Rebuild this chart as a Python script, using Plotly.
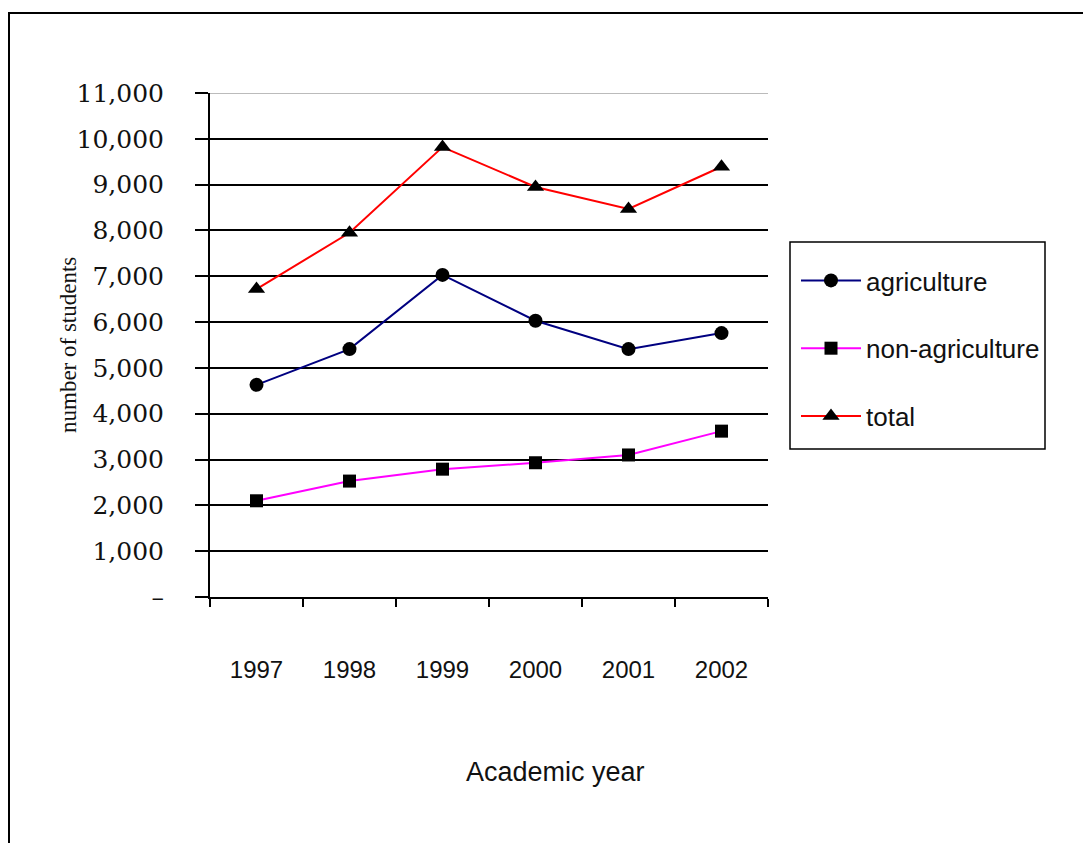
import plotly.graph_objects as go

years = ["1997", "1998", "1999", "2000", "2001", "2002"]
agriculture = [4630, 5410, 7030, 6030, 5410, 5760]
non_agriculture = [2100, 2530, 2790, 2930, 3100, 3620]
total = [6720, 7950, 9820, 8950, 8470, 9390]

series_names = ["agriculture", "non-agriculture", "total"]
series_colors = ["#000080", "#FF00FF", "#FF0000"]
series_symbols = ["circle", "square", "triangle-up"]
series_sizes = [14, 13, 15]

y_tickvals = list(range(0, 11001, 1000))
y_ticktext = ["–"] + [f"{v:,}" for v in y_tickvals[1:]]

fig = go.Figure()
for name, vals, col, sym, sz in zip(series_names, [agriculture, non_agriculture, total],
                                    series_colors, series_symbols, series_sizes):
    fig.add_trace(go.Scatter(
        x=years, y=vals, name=name, mode="lines+markers",
        line=dict(color=col, width=2),
        marker=dict(symbol=sym, size=sz, color="black"),
        legendgroup=name,
    ))

W, H = 1091, 843
OFF = 8  # page offset of the figure in the screenshot
L, R, T, B = 210 - OFF, 768 - OFF, 93 - OFF, 597 - OFF
pw, ph = R - L, B - T

def px(x):  # reference screenshot x -> paper
    return (x - OFF - L) / pw

def py(y):  # reference screenshot y -> paper
    return (B - (y - OFF)) / ph

fig.update_layout(
    width=W, height=H,
    margin=dict(l=L, r=W - R, t=T, b=H - B),
    paper_bgcolor="white", plot_bgcolor="white",
    showlegend=True,
    legend=dict(
        x=px(796), y=py(257), xanchor="left", yanchor="top",
        borderwidth=0,
        font=dict(family="Liberation Sans, Arial, sans-serif", size=26, color="#111"),
        tracegroupgap=31, itemwidth=60,
        bgcolor="rgba(0,0,0,0)",
    ),
    xaxis=dict(
        type="category", range=[-0.5, 5.5],
        tickson="boundaries", ticks="outside", ticklen=8, tickwidth=2, tickcolor="black",
        showline=True, linecolor="black", linewidth=2,
        showgrid=False, zeroline=False,
        tickfont=dict(family="Liberation Sans, Arial, sans-serif", size=24, color="#111"),
        ticklabelstandoff=50,
    ),
    yaxis=dict(
        range=[0, 11000], tickvals=y_tickvals, ticktext=y_ticktext,
        ticks="outside", ticklen=13, tickwidth=2, tickcolor="black",
        showline=True, linecolor="black", linewidth=2,
        showgrid=True, gridcolor="black", gridwidth=2,
        zeroline=False,
        tickfont=dict(family="DejaVu Serif, serif", size=25, color="#111"),
        ticklabelstandoff=26,
    ),
    font=dict(family="Liberation Sans, Arial, sans-serif", color="#111"),
)

# top grid line drawn lighter
fig.add_shape(type="line", xref="paper", yref="y", x0=0, x1=1, y0=11000, y1=11000,
              line=dict(color="#BBBBBB", width=2), layer="above")
# legend box
fig.add_shape(type="rect", xref="paper", yref="paper",
              x0=px(790), x1=px(1045), y0=py(449), y1=py(242),
              line=dict(color="black", width=1.5), fillcolor="white", layer="below")
# outer frame
fig.add_shape(type="rect", xref="paper", yref="paper",
              x0=px(9), x1=px(1120), y0=py(880), y1=py(13),
              line=dict(color="black", width=2), layer="below")

fig.add_annotation(text="Academic year", xref="paper", yref="paper",
                   x=px(555), y=py(772), xanchor="center", yanchor="middle",
                   showarrow=False,
                   font=dict(family="Liberation Sans, Arial, sans-serif", size=27, color="#111"))
fig.add_annotation(text="number of students", xref="paper", yref="paper",
                   x=px(68), y=py(345), xanchor="center", yanchor="middle",
                   textangle=-90, showarrow=False,
                   font=dict(family="Liberation Serif, Times New Roman, serif", size=23, color="#111"))

fig.write_html("out.html")
